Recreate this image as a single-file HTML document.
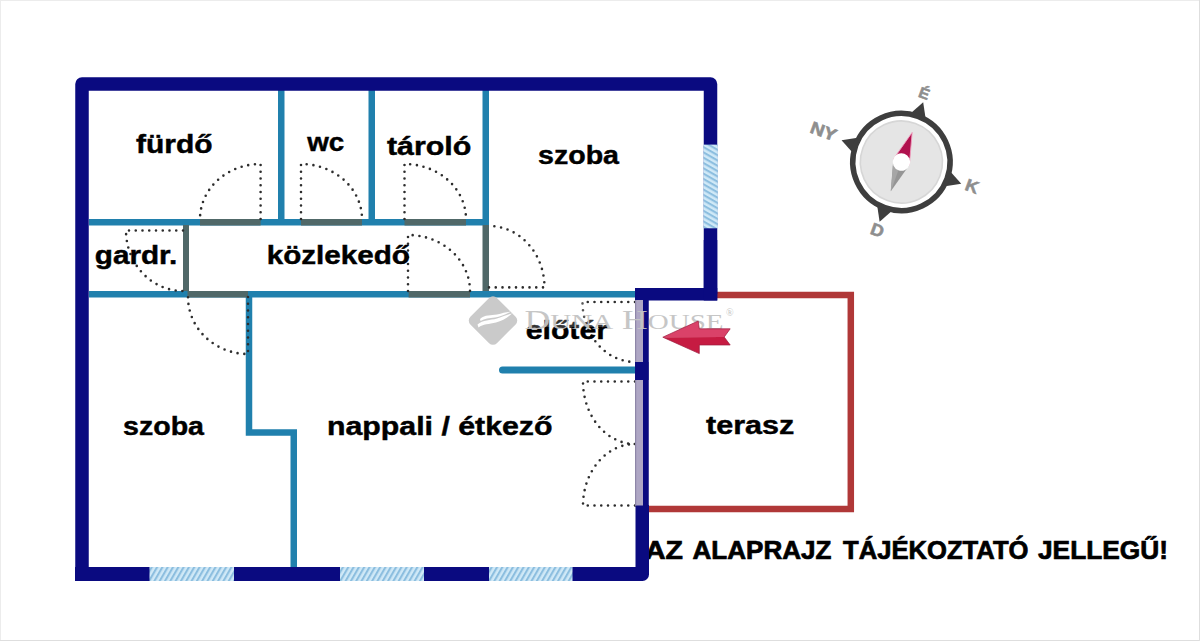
<!DOCTYPE html>
<html><head><meta charset="utf-8">
<style>
html,body{margin:0;padding:0;background:#fff;width:1200px;height:641px;overflow:hidden}
svg{display:block}
text{font-family:"Liberation Sans",sans-serif;font-weight:bold}
</style></head>
<body>
<svg width="1200" height="641" viewBox="0 0 1200 641">
<defs>
<pattern id="hatch" patternUnits="userSpaceOnUse" width="4.6" height="5" patternTransform="rotate(30)">
<rect width="4.6" height="5" fill="#d0e9f7"/>
<rect width="2.1" height="5" fill="#8cbedf"/>
</pattern>
<pattern id="hatch2" patternUnits="userSpaceOnUse" width="4.6" height="5" patternTransform="rotate(120)">
<rect width="4.6" height="5" fill="#d0e9f7"/>
<rect width="2.1" height="5" fill="#8cbedf"/>
</pattern>
</defs>
<rect width="1200" height="641" fill="#fff"/>

<!-- bottom disclaimer text (under wall) -->
<g fill="#000" stroke="#000" stroke-width="0.7" font-size="25">
<text x="645" y="558.75" textLength="38" lengthAdjust="spacingAndGlyphs">AZ</text>
<text x="692.5" y="558.75" textLength="139" lengthAdjust="spacingAndGlyphs">ALAPRAJZ</text>
<text x="843" y="558.75" textLength="185.5" lengthAdjust="spacingAndGlyphs">TÁJÉKOZTATÓ</text>
<text x="1038" y="558.75" textLength="130" lengthAdjust="spacingAndGlyphs">JELLEGŰ!</text>
</g>

<!-- terrace -->
<path d="M717,295 H850.8 V508.9 H649" fill="none" stroke="#b03838" stroke-width="6.5"/>

<!-- inner light blue walls -->
<g fill="#2080ad">
<rect x="89" y="219" width="400" height="6.5"/>
<rect x="89" y="291" width="546" height="6.5"/>
<rect x="278" y="90" width="6.5" height="129"/>
<rect x="368.5" y="90" width="6.5" height="129"/>
<rect x="482.5" y="90" width="6.5" height="135"/>
</g>
<path d="M249,297 V432.5 H293.75 V567" fill="none" stroke="#2080ad" stroke-width="6.5" stroke-linejoin="miter"/>
<path d="M502.5,370 H635" fill="none" stroke="#2080ad" stroke-width="7" stroke-linecap="round"/>
<!-- grey door openings -->
<g fill="#506868">
<rect x="200" y="219" width="60.6" height="6.5"/>
<rect x="301" y="219" width="61" height="6.5"/>
<rect x="404.5" y="219" width="61.5" height="6.5"/>
<rect x="187.5" y="291" width="60.5" height="6.5"/>
<rect x="408.6" y="291" width="61.4" height="6.5"/>
<rect x="482.5" y="225" width="6.5" height="66"/>
<rect x="183" y="225" width="6" height="66"/>
</g>

<!-- dotted door swings -->
<g fill="none" stroke="#2d2d2d" stroke-width="2.6" stroke-linecap="round" stroke-dasharray="0 6.75">
<path d="M260.6,219 V164 A60.6,55 0 0 0 200,219"/>
<path d="M301,219 V164 A61,55 0 0 1 362,219"/>
<path d="M404.5,219 V164 A61.5,55 0 0 1 466,219"/>
<path d="M183,230.5 H126 A57,60.5 0 0 0 183,291"/>
<path d="M248,297 V354 A60,57 0 0 1 188,297"/>
<path d="M408,291 V235 A62,56 0 0 1 470,291"/>
<path d="M489,287.4 H544.5 A55.5,61.4 0 0 0 489,226"/>
<path d="M635,302 H582.5 A52.5,60 0 0 0 635,362"/>
<path d="M635,381.5 H583 A52,62.5 0 0 0 635,444"/>
<path d="M635,505.5 H583 A52,61.5 0 0 1 635,444"/>
</g>

<!-- navy outer walls -->
<path d="M82,581 V84 H710.5 V294" fill="none" stroke="#0a0a80" stroke-width="13.5" stroke-linejoin="round"/>
<rect x="635" y="288" width="82.25" height="12.5" fill="#0a0a80"/>
<rect x="703.75" y="240" width="13.5" height="60.5" fill="#0a0a80"/>
<path d="M75,567 H635.5 V505 H649 V574.5 A6.5,6.5 0 0 1 642.5,581 H75 Z" fill="#0a0a80"/>
<rect x="643" y="300" width="5.75" height="210" fill="#0a0a80"/>
<rect x="635" y="362" width="13.5" height="18" fill="#0a0a80"/>
<rect x="635" y="300" width="8" height="62" fill="#aea6c4"/>
<rect x="635" y="300" width="1.2" height="62" fill="#8e86a8"/>
<rect x="635" y="380" width="8" height="125.5" fill="#aea6c4"/>
<rect x="635" y="380" width="1.2" height="125.5" fill="#8e86a8"/>

<!-- windows -->
<g fill="url(#hatch)">
<rect x="149.5" y="567" width="84.5" height="14"/>
<rect x="340" y="567" width="84" height="14"/>
<rect x="489" y="567" width="83.5" height="14"/>
<rect x="703.5" y="144.6" width="14.25" height="83.7" fill="url(#hatch2)"/>
</g>

<!-- room labels -->
<g fill="#000" stroke="#000" stroke-width="0.45" font-size="26">
<text x="136" y="153" textLength="76.5" lengthAdjust="spacingAndGlyphs">fürdő</text>
<text x="307.2" y="151" textLength="37" lengthAdjust="spacingAndGlyphs">wc</text>
<text x="386.9" y="155" textLength="84.5" lengthAdjust="spacingAndGlyphs">tároló</text>
<text x="538" y="164" textLength="81" lengthAdjust="spacingAndGlyphs">szoba</text>
<text x="94.75" y="264.2" textLength="82.5" lengthAdjust="spacingAndGlyphs">gardr.</text>
<text x="266.7" y="264.3" textLength="143.3" lengthAdjust="spacingAndGlyphs">közlekedő</text>
<text x="525.7" y="338.75" textLength="82.3" lengthAdjust="spacingAndGlyphs">előtér</text>
<text x="123" y="434.5" textLength="81" lengthAdjust="spacingAndGlyphs">szoba</text>
<text x="327" y="435.2" textLength="225.5" lengthAdjust="spacingAndGlyphs">nappali / étkező</text>
<text x="706" y="434.2" textLength="88.3" lengthAdjust="spacingAndGlyphs">terasz</text>
</g>

<!-- watermark -->
<rect x="520" y="303" width="114" height="24" fill="#fff" opacity="0.2"/>
<g opacity="0.95">
<rect x="474.25" y="301.85" width="37.5" height="37.5" rx="5.5" transform="rotate(45 493 320.6)" fill="#c8c8c8"/>
<path d="M480,319 C485,314.5 491,315.5 497,314.5 C502,313.5 506,312 510.5,311.8 C505,315 500,316.8 495,317.5 C489,318.3 485,318.5 480.5,321 Z" fill="#fff"/>
<path d="M477.5,324.5 C483,319.5 490,320.5 497,318.5 C503,316.5 507,314.5 512,313.5 C507,318 502,321 496,322.5 C489,324.2 483,324 478.5,327.5 Z" fill="#fff"/>
<path d="M470.5,320.6 L493,298.1" fill="none" stroke="#fff" stroke-width="0.8" opacity="0"/>
<text x="524.5" y="328.5" style="font-family:'Liberation Serif',serif;font-weight:normal" fill="#c4c4c4" font-size="27" textLength="199" lengthAdjust="spacingAndGlyphs">D<tspan font-size="22">UNA</tspan> H<tspan font-size="22">OUSE</tspan></text>
<text x="726" y="316" style="font-family:'Liberation Serif',serif;font-weight:normal" fill="#c4c4c4" font-size="10">®</text>
</g>

<!-- arrow -->
<polygon points="662.8,337.2 698.2,321 699.3,328.8 730.2,328.8 724.2,337" fill="#da4269"/>
<polygon points="662.8,337.2 724.2,337 730.2,345 699.3,345 699.3,353.6" fill="#c61b42"/>
<polygon points="662.8,337.2 698.2,321 699.3,328.8 730.2,328.8 724.2,337 730.2,345 699.3,345 699.3,353.6" fill="none" stroke="#9c1a3c" stroke-width="0.7" stroke-linejoin="round"/>

<!-- compass -->
<g transform="translate(901.4 162) rotate(20)">
<g fill="#3e3e3e">
<polygon points="-8.5,-48 8.5,-48 0,-63.7"/>
<polygon points="-8.5,48 8.5,48 0,63.7"/>
<polygon points="-48,-8.5 -48,8.5 -63.7,0"/>
<polygon points="48,-8.5 48,8.5 63.7,0"/>
</g>
<circle r="48.6" fill="#fff" stroke="#3e3e3e" stroke-width="5.5"/>
<circle r="41" fill="#e5e5e5" stroke="#d6d6d6" stroke-width="1.6"/>
<polygon points="-8.5,0 8.5,0 0,-31.5" fill="#b0114e" stroke="#f0a0c0" stroke-width="0.8"/>
<polygon points="-8.5,0 8.5,0 0,31" fill="#959595"/>
<polygon points="-8.5,0 0,0 0,31" fill="#a6a6a6"/>
<circle r="8.7" fill="#fff"/>
<g fill="#8e8e8e" stroke="#8e8e8e" stroke-width="0.6" font-size="17" text-anchor="middle">
<text x="-2" y="-67" font-size="15" textLength="10.5" lengthAdjust="spacingAndGlyphs">É</text>
<text x="0.7" y="78.3" textLength="13" lengthAdjust="spacingAndGlyphs">D</text>
<text x="-83.6" y="3.7" textLength="27" lengthAdjust="spacingAndGlyphs">NY</text>
<text x="74.6" y="4.4" textLength="13" lengthAdjust="spacingAndGlyphs">K</text>
</g>
</g>
<rect x="0.5" y="0.5" width="1199" height="640" fill="none" stroke="#ececec" stroke-width="1"/>
<path d="M1199.5,0 V640.5 H0" fill="none" stroke="#dedede" stroke-width="1"/>
</svg>
</body></html>
